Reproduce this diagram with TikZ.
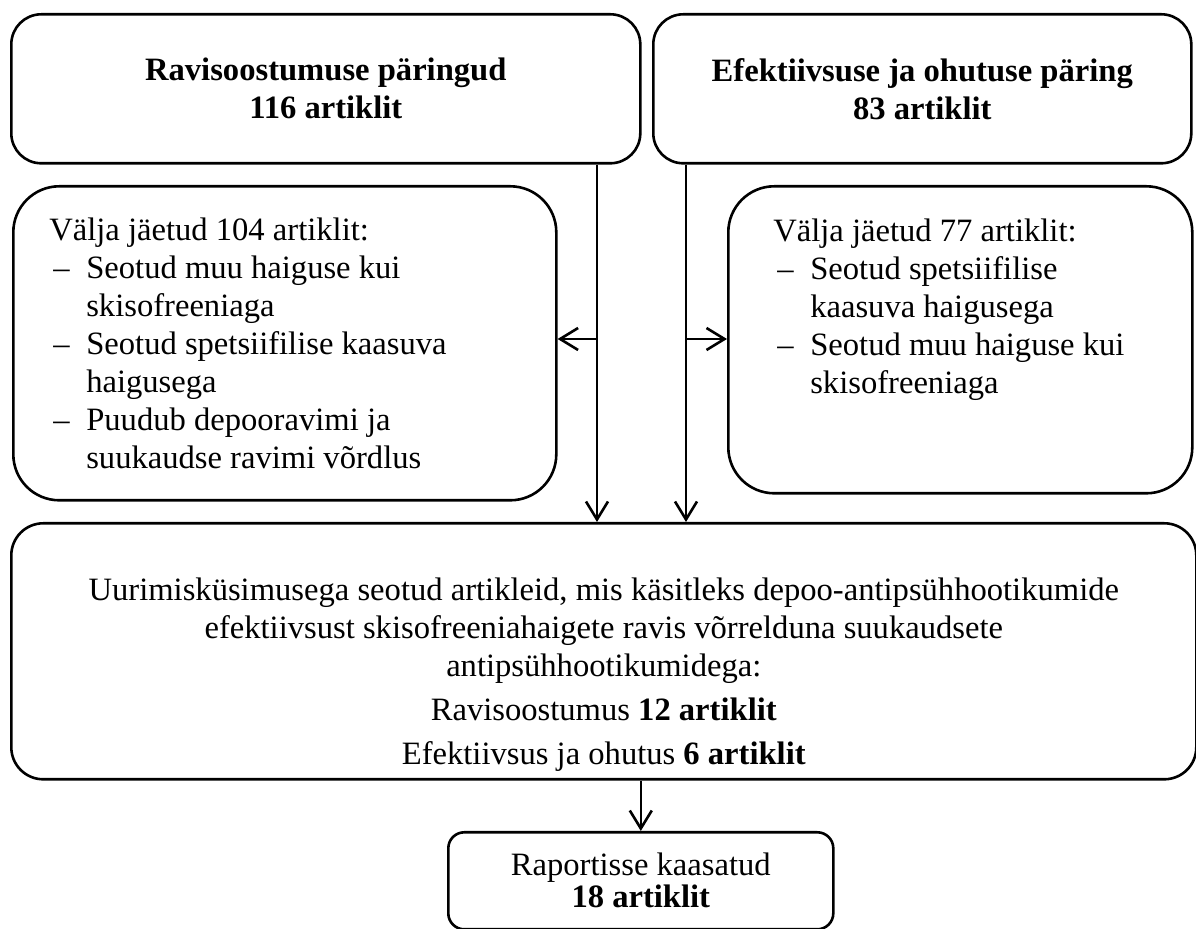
\documentclass[tikz,border=0pt]{standalone}
\usepackage{fontspec}
\setmainfont{Liberation Serif}
\usetikzlibrary{arrows.meta}
\newcommand{\dashitem}{\makebox[18.5pt][l]{\hspace*{2pt}--}}
\newcommand{\dashcont}{\hspace*{18.5pt}}
\begin{document}
\begin{tikzpicture}[x=0.5pt,y=-0.5pt,
	box/.style={draw, line width=1.3pt, rounded corners=#1, inner sep=0pt, anchor=north west,
		font=\fontsize{16.3}{19}\selectfont},
	box/.default=15pt,
	flow/.style={line width=1.3pt, -{Straight Barb[length=9pt,width=11pt,line width=1.3pt]}}]
	\useasboundingbox (0,0) rectangle (1196,929);
	% searches
	\node[box, minimum width=314.5pt, minimum height=74.5pt, align=center, font=\fontsize{16.3}{19}\selectfont\bfseries] (adh) at (10,13) {Ravisoostumuse päringud\\116 artiklit};
	\node[box, minimum width=269pt, minimum height=74.5pt, align=center, font=\fontsize{16.3}{19}\selectfont\bfseries] (eff) at (652,13) {Efektiivsuse ja ohutuse päring\\83 artiklit};
	% excluded
	\node[box=23pt, minimum width=271.5pt, minimum height=157pt, text width=235.5pt, align=flush left] (exadh) at (12,185) {Välja jäetud 104 artiklit:\\
		\dashitem Seotud muu haiguse kui\\
		\dashcont skisofreeniaga\\
		\dashitem Seotud spetsiifilise kaasuva\\
		\dashcont haigusega\\
		\dashitem Puudub depooravimi ja\\
		\dashcont suukaudse ravimi võrdlus};
	\node[box=23pt, minimum width=232pt, minimum height=153.5pt, text width=187pt, align=flush left, text depth=110pt] (exeff) at (727,185) {Välja jäetud 77 artiklit:\\
		\dashitem Seotud spetsiifilise\\
		\dashcont kaasuva haigusega\\
		\dashitem Seotud muu haiguse kui\\
		\dashcont skisofreeniaga};
	% included
	\node[box=16pt, minimum width=592.5pt, minimum height=128pt, text width=580pt, align=flush center, text depth=62pt] (incl) at (10,522) {Uurimisküsimusega seotud artikleid, mis käsitleks depoo-antipsühhootikumide\\
		efektiivsust skisofreeniahaigete ravis võrrelduna suukaudsete\\
		antipsühhootikumidega:\\[3pt]
		Ravisoostumus \textbf{12 artiklit}\\[3pt]
		Efektiivsus ja ohutus \textbf{6 artiklit}};
	\node[box=8pt, minimum width=192.5pt, minimum height=48.5pt, align=center, font=\fontsize{16.3}{16}\selectfont] (rep) at (447,831) {Raportisse kaasatud\\\textbf{18 artiklit}};
	% arrows
	\coordinate (lsplit) at (597,339);
	\coordinate (rsplit) at (686,339);
	\draw[flow] (adh.south -| lsplit) -- (incl.north -| lsplit);
	\draw[flow] (eff.south -| rsplit) -- (incl.north -| rsplit);
	\draw[flow] (lsplit) -- (exadh.east |- lsplit);
	\draw[flow] (rsplit) -- (exeff.west |- rsplit);
	\draw[flow] (incl.south -| rep.north) -- (rep.north);
\end{tikzpicture}
\end{document}
